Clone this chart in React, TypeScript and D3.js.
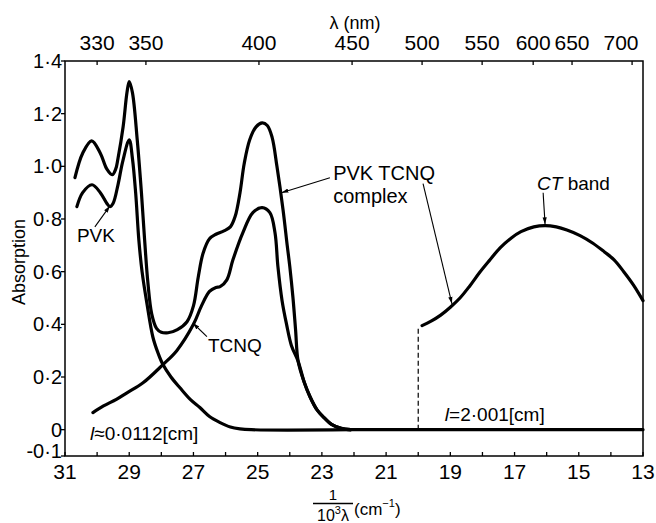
import React from "react";
import * as d3 from "d3";

// ---- data (wavenumber in 10^3 cm^-1, absorption) ----
const complexCurve: [number, number][] = [
  [30.69, 0.957], [30.45, 1.05], [30.17, 1.097], [29.9, 1.05], [29.7, 0.99], [29.53, 0.968],
  [29.42, 0.99], [29.35, 1.03], [29.19, 1.15], [29.07, 1.28], [29.0, 1.322], [28.9, 1.28],
  [28.75, 1.1], [28.62, 0.9], [28.52, 0.72], [28.42, 0.56], [28.3, 0.44], [28.15, 0.385],
  [28.0, 0.37], [27.79, 0.368], [27.5, 0.38], [27.2, 0.41], [27.0, 0.47], [26.85, 0.58],
  [26.7, 0.67], [26.5, 0.725], [26.3, 0.742], [26.05, 0.755], [25.85, 0.77], [25.7, 0.81],
  [25.55, 0.9], [25.42, 1.01], [25.25, 1.1], [25.05, 1.15], [24.86, 1.165], [24.7, 1.155],
  [24.55, 1.11], [24.4, 1.0], [24.21, 0.835], [24.08, 0.7], [24.0, 0.62], [23.9, 0.5],
  [23.82, 0.38], [23.74, 0.26], [23.55, 0.18], [23.37, 0.125], [23.15, 0.075], [22.96, 0.049],
  [22.7, 0.02], [22.4, 0.005], [22.1, 0],
];
const pvkCurve: [number, number][] = [
  [30.63, 0.847], [30.45, 0.9], [30.16, 0.93], [29.9, 0.9], [29.7, 0.86], [29.6, 0.847],
  [29.5, 0.86], [29.35, 0.93], [29.2, 1.02], [29.0, 1.101], [28.9, 1.03], [28.8, 0.9],
  [28.7, 0.72], [28.6, 0.6], [28.45, 0.48], [28.26, 0.35], [28.1, 0.29], [27.95, 0.247],
  [27.7, 0.2], [27.42, 0.159], [27.1, 0.115], [26.8, 0.084], [26.5, 0.05], [26.17, 0.027],
  [25.85, 0.01], [25.55, 0.003], [25.2, 0], [22.1, 0],
];
const tcnqCurve: [number, number][] = [
  [30.13, 0.065], [29.8, 0.09], [29.4, 0.115], [29.07, 0.14], [28.57, 0.178], [27.95, 0.247],
  [27.52, 0.3], [27.0, 0.4], [26.75, 0.47], [26.5, 0.525], [26.3, 0.54], [26.17, 0.543],
  [25.96, 0.569], [25.77, 0.645], [25.46, 0.748], [25.15, 0.824], [24.86, 0.843],
  [24.62, 0.824], [24.46, 0.748], [24.37, 0.62], [24.24, 0.49], [24.1, 0.4], [23.95, 0.32],
  [23.74, 0.26], [23.55, 0.18], [23.37, 0.125], [23.15, 0.075], [22.96, 0.049],
  [22.7, 0.02], [22.4, 0.005], [22.1, 0],
];
const ctCurve: [number, number][] = [
  [19.88, 0.395], [19.6, 0.412], [19.3, 0.435], [19.0, 0.465], [18.7, 0.5], [18.4, 0.545],
  [18.1, 0.595], [17.8, 0.64], [17.45, 0.69], [17.1, 0.728], [16.8, 0.752], [16.4, 0.77],
  [16.05, 0.775], [15.7, 0.77], [15.37, 0.758], [14.96, 0.737], [14.56, 0.708], [14.2, 0.675],
  [13.9, 0.645], [13.6, 0.6], [13.3, 0.55], [13.0, 0.49],
];
const baseline2: [number, number][] = [[22.2, 0], [13, 0]];
const ctStart: number = 20;

const bottomTicks: number[] = [31, 30, 29, 28, 27, 26, 25, 24, 23, 22, 21, 20, 19, 18, 17, 16, 15, 14, 13];
const bottomLabels: number[] = [31, 29, 27, 25, 23, 21, 19, 17, 15, 13];
const yTickValues: number[] = [1.4, 1.2, 1.0, 0.8, 0.6, 0.4, 0.2, 0, -0.1];
const yTickLabels: string[] = ["1·4", "1·2", "1·0", "0·8", "0·6", "0·4", "0·2", "0", "-0·1"];
const topLabels: string[] = ["330", "350", "400", "450", "500", "550", "600", "650", "700"];
const topTickAt: number[] = [30.0, 28.48, 24.96, 22.06, 19.88, 18.01, 16.42, 15.21, 13.34];

const FONT = "'Liberation Sans', Arial, sans-serif";

export default function App() {
  const W = 656, H = 523;
  const x = d3.scaleLinear().domain([31, 13]).range([65, 643]);
  const y = d3.scaleLinear().domain([-0.1, 1.4]).range([456, 61]);
  const line = d3
    .line<[number, number]>()
    .x((d) => x(d[0]))
    .y((d) => y(d[1]))
    .curve(d3.curveCatmullRom.alpha(0.5));

  const curveStyle = { fill: "none", stroke: "#000", strokeWidth: 3.2, strokeLinejoin: "round" as const, strokeLinecap: "round" as const };

  const leaders: { from: [number, number]; to: [number, number] }[] = [
    { from: [30.07, 0.77], to: [29.6, 0.85] },
    { from: [26.58, 0.353], to: [27.02, 0.405] },
    { from: [22.75, 0.957], to: [24.26, 0.9] },
    { from: [19.85, 0.934], to: [18.95, 0.478] },
    { from: [16.11, 0.9], to: [16.05, 0.78] },
  ];

  return (
    <svg width={W} height={H} style={{ position: "absolute", left: 0, top: 0, background: "#fff" }} fontFamily={FONT}>
      <defs>
        <marker id="arr" viewBox="0 0 10 10" refX="10" refY="5" markerWidth="7" markerHeight="7" orient="auto" markerUnits="userSpaceOnUse">
          <path d="M0,2 L10,5 L0,8 z" fill="#000" />
        </marker>
      </defs>
      <rect x={65} y={61} width={578} height={395} fill="none" stroke="#000" strokeWidth={1.5} />

      {/* bottom ticks (inward) */}
      {bottomTicks.map((t) => (
        <line key={"bt" + t} x1={x(t)} x2={x(t)} y1={456} y2={452} stroke="#000" strokeWidth={1.3} />
      ))}
      {bottomLabels.map((t) => (
        <text key={"bl" + t} x={x(t)} y={479} textAnchor="middle" fontSize={21}>{t}</text>
      ))}

      {/* left ticks */}
      {yTickValues.map((v, i) => (
        <g key={"y" + v}>
          <line x1={61} x2={65} y1={y(v)} y2={y(v)} stroke="#000" strokeWidth={1.3} />
          <text x={62} y={y(v) + (v < 0 ? 2 : 7)} textAnchor="end" fontSize={20}>{yTickLabels[i]}</text>
        </g>
      ))}

      {/* top ticks */}
      {topTickAt.map((t, i) => (
        <g key={"tt" + i}>
          <line x1={x(t)} x2={x(t)} y1={61} y2={65} stroke="#000" strokeWidth={1.3} />
          <text x={Math.min(x(t), 621)} y={50} textAnchor="middle" fontSize={21}>{topLabels[i]}</text>
        </g>
      ))}
      <text x={355} y={29} textAnchor="middle" fontSize={18}>λ (nm)</text>

      {/* y axis title */}
      <text transform="translate(25,262) rotate(-90)" textAnchor="middle" fontSize={18}>Absorption</text>

      {/* x axis title */}
      <text x={333} y={500} textAnchor="middle" fontSize={15}>1</text>
      <line x1={313} x2={353} y1={503.5} y2={503.5} stroke="#000" strokeWidth={1.3} />
      <text x={333} y={521} textAnchor="middle" fontSize={16}>
        10<tspan fontSize={11} dy={-7}>3</tspan><tspan dy={7}>λ</tspan>
      </text>
      <text x={354} y={515} fontSize={17}>
        (cm<tspan fontSize={11} dy={-8}>−1</tspan><tspan dy={8}>)</tspan>
      </text>

      {/* curves */}
      <path d={line(tcnqCurve) || ""} {...curveStyle} />
      <path d={line(pvkCurve) || ""} {...curveStyle} />
      <path d={line(complexCurve) || ""} {...curveStyle} />
      <path d={line(baseline2) || ""} {...curveStyle} />
      <path d={line(ctCurve) || ""} {...curveStyle} />
      <line x1={x(ctStart)} x2={x(ctStart)} y1={y(0)} y2={y(ctCurve[0][1])} stroke="#000" strokeWidth={1.2} strokeDasharray="5,3" />

      {/* leaders */}
      {leaders.map((l, i) => (
        <line key={"ld" + i} x1={x(l.from[0])} y1={y(l.from[1])} x2={x(l.to[0])} y2={y(l.to[1])} stroke="#000" strokeWidth={1.1} markerEnd="url(#arr)" />
      ))}

      {/* annotations */}
      <text x={x(30.63)} y={y(0.714)} fontSize={19}>PVK</text>
      <text x={x(26.55)} y={y(0.296)} fontSize={19}>TCNQ</text>
      <text x={x(22.65)} y={y(0.949)} fontSize={20}>PVK TCNQ</text>
      <text x={x(22.65)} y={y(0.862)} fontSize={20}>complex</text>
      <text x={x(16.3)} y={y(0.911)} fontSize={19}>
        <tspan fontStyle="italic">CT</tspan> band
      </text>
      <text x={x(30.22)} y={y(-0.038)} fontSize={19}>
        <tspan fontStyle="italic">l</tspan>≈0·0112[cm]
      </text>
      <text x={x(19.17)} y={y(0.034)} fontSize={19}>
        <tspan fontStyle="italic">l</tspan>=2·001[cm]
      </text>
    </svg>
  );
}
